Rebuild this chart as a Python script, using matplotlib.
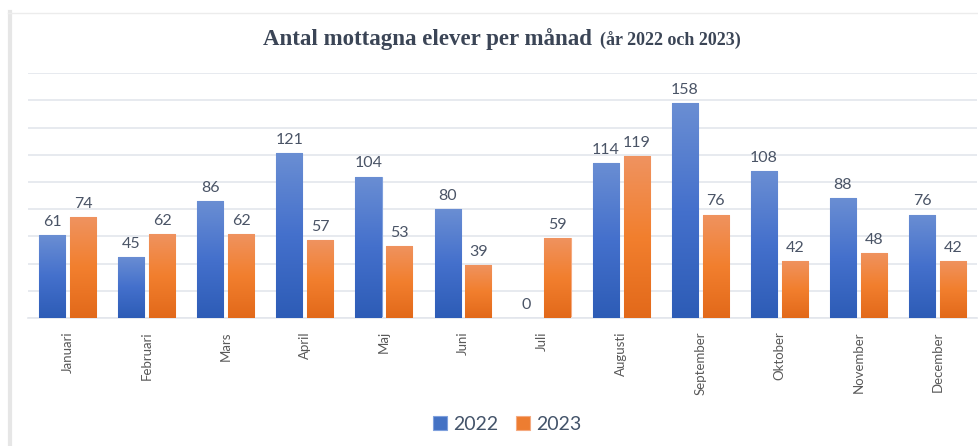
import matplotlib.pyplot as plt
import numpy as np
from matplotlib.colors import LinearSegmentedColormap
from matplotlib.lines import Line2D

months = ['Januari', 'Februari', 'Mars', 'April', 'Maj', 'Juni', 'Juli',
          'Augusti', 'September', 'Oktober', 'November', 'December']
y2022 = [61, 45, 86, 121, 104, 80, 0, 114, 158, 108, 88, 76]
y2023 = [74, 62, 62, 57, 53, 39, 59, 119, 76, 42, 48, 42]

plt.rcParams['font.family'] = ['Lato', 'DejaVu Sans']

fig = plt.figure(figsize=(9.79, 4.46), dpi=100)
ax = fig.add_axes([0.0286, 0.287, 0.9694, 0.549])

x = np.arange(len(months))
w = 0.33
off = 0.195

blue_cm = LinearSegmentedColormap.from_list('b', ['#2D5CB6', '#4470CC', '#6A8ED3'])
orange_cm = LinearSegmentedColormap.from_list('o', ['#E2691A', '#F27F2E', '#EF9360'])

grad = np.linspace(0, 1, 256).reshape(-1, 1)

def gradient_bars(bars, cmap):
    for b in bars:
        h = b.get_height()
        if h <= 0:
            continue
        x0 = b.get_x()
        im = ax.imshow(grad, cmap=cmap, origin='lower', aspect='auto',
                       extent=[x0, x0 + b.get_width(), 0, h], zorder=3)
        im.set_clip_path(b)

b1 = ax.bar(x - off, y2022, w, color='#4472C4', edgecolor='#7FA0DD', linewidth=0.8, zorder=2)
b2 = ax.bar(x + off, y2023, w, color='#ED7D31', edgecolor='#F5AA80', linewidth=0.8, zorder=2)
gradient_bars(b1, blue_cm)
gradient_bars(b2, orange_cm)

for xs, vals in ((x - off, y2022), (x + off, y2023)):
    for xi, v in zip(xs, vals):
        ax.text(xi, v + 4.5, str(v), ha='center', va='bottom', fontsize=11.5,
                color='#4A5466')

ax.set_xlim(-0.5, 11.5)
ax.set_ylim(0, 180)
ax.set_yticks(np.arange(0, 181, 20))
ax.yaxis.grid(True, color='#E3E6EC', linewidth=1.2, zorder=0)
ax.set_axisbelow(True)
ax.tick_params(axis='y', left=False, labelleft=False)
ax.tick_params(axis='x', bottom=False, pad=6)
ax.set_xticks(x)
ax.set_xticklabels(months, rotation=90, fontsize=9.5, color='#595959')
for s in ['top', 'right', 'left']:
    ax.spines[s].set_visible(False)
ax.spines['bottom'].set_color('#E3E6EC')
ax.spines['bottom'].set_linewidth(1.2)

fig.text(0.269, 0.912, 'Antal mottagna elever per månad', family='Liberation Serif',
         fontweight='bold', fontsize=16.5, color='#3B4556', va='center')
fig.text(0.613, 0.908, '(år 2022 och 2023)', family='Liberation Serif',
         fontweight='bold', fontsize=13, color='#3B4556', va='center')

leg = fig.legend([b1, b2], ['2022', '2023'], loc='center', bbox_to_anchor=(0.518, 0.048),
                 ncol=2, frameon=False, fontsize=14, handlelength=0.75, handleheight=0.75,
                 handletextpad=0.3, columnspacing=0.9, labelcolor='#44546A')

# light frame at left and top
fig.add_artist(Line2D([0.0102, 0.0102], [0.0, 0.972], color='#E6E6E6', linewidth=3,
                      transform=fig.transFigure))
fig.add_artist(Line2D([0.0085, 1.0], [0.971, 0.971], color='#ECECEC', linewidth=1,
                      transform=fig.transFigure))

fig.savefig('out.png', dpi=100)
